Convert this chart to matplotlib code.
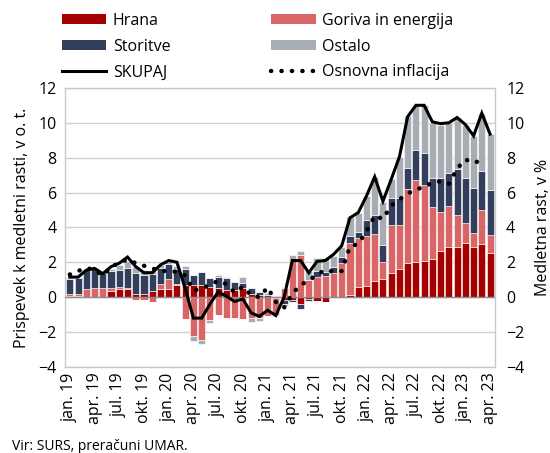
import matplotlib
matplotlib.use('Agg')
import matplotlib.pyplot as plt
import numpy as np
from matplotlib.patches import Patch
from matplotlib.lines import Line2D

plt.rcParams['font.family'] = ['Open Sans', 'DejaVu Sans']

# ---- data (jan 2019 .. apr 2023, monthly) ----
tick_labels = ['jan. 19', 'apr. 19', 'jul. 19', 'okt. 19', 'jan. 20', 'apr. 20',
               'jul. 20', 'okt. 20', 'jan. 21', 'apr. 21', 'jul. 21', 'okt. 21',
               'jan. 22', 'apr. 22', 'jul. 22', 'okt. 22', 'jan. 23', 'apr. 23']

hrana = [0.06, 0.05, 0.02, 0.02, -0.05, 0.35, 0.44, 0.45, 0.2, 0.2, 0.38, 0.45,
         0.48, 0.7, 0.7, 0.7, 0.7, 0.6, 0.5, 0.4, 0.4, 0.5, 0.2, 0.1,
         0.0, -0.05, -0.15, -0.15, -0.4, -0.1, -0.2, -0.27, -0.05, 0.0, 0.12, 0.56,
         0.63, 0.94, 1.02, 1.4, 1.6, 1.94, 2.0, 2.1, 2.19, 2.63, 2.9, 2.85,
         3.1, 2.9, 3.06, 2.52]
goriva = [0.12, 0.15, 0.45, 0.48, 0.5, 0.2, 0.15, 0.1, -0.15, -0.15, -0.25, 0.3,
          0.55, 0.05, -1.23, -2.25, -2.45, -1.29, -1.04, -1.17, -1.17, -1.23, -1.2, -1.17,
          -1.1, -1.0, 0.5, 2.1, 2.4, 1.0, 1.17, 1.21, 1.37, 1.94, 2.98, 2.82,
          2.9, 2.7, 1.0, 2.75, 2.55, 4.26, 4.7, 4.35, 2.98, 2.24, 2.3, 1.86,
          1.15, 0.77, 1.92, 1.06]
storitve = [0.85, 0.88, 1.1, 1.15, 0.9, 0.95, 0.96, 1.1, 1.2, 1.05, 0.95, 0.95,
            0.9, 0.85, 0.9, 0.57, 0.72, 0.48, 0.67, 0.68, 0.48, 0.3, 0.3, 0.2,
            0.12, 0.05, -0.25, -0.15, -0.25, -0.1, 0.35, 0.25, 0.34, 0.35, 0.38, 0.35,
            0.9, 1.1, 0.95, 1.55, 1.55, 1.2, 1.74, 1.8, 1.68, 1.98, 1.9, 2.66,
            2.6, 2.6, 2.25, 2.59]
ostalo = [0.05, 0.05, 0.03, 0.02, 0.05, 0.1, 0.3, 0.4, 0.35, 0.3, 0.25, 0.15,
          0.1, 0.2, 0.2, -0.25, -0.22, -0.19, 0.1, 0.1, 0.0, 0.33, -0.2, -0.2,
          0.13, -0.05, -0.1, 0.3, 0.27, 0.5, 0.7, 0.77, 0.66, 0.6, 1.1, 1.12,
          1.35, 2.15, 2.5, 1.05, 2.35, 3.0, 2.5, 2.75, 3.15, 3.05, 2.9, 2.93,
          3.05, 2.98, 3.27, 3.18]
skupaj = [1.15, 1.15, 1.55, 1.65, 1.35, 1.75, 1.95, 2.3, 1.75, 1.4, 1.4, 1.85,
          2.1, 2.0, 0.5, -1.2, -1.2, -0.4, 0.3, 0.05, -0.25, -0.1, -0.9, -1.1,
          -0.75, -1.05, 0.0, 2.1, 2.1, 1.4, 2.05, 2.1, 2.45, 2.95, 4.55, 4.85,
          5.8, 6.9, 5.5, 6.75, 8.05, 10.35, 11.0, 11.0, 10.05, 9.95, 10.0, 10.3,
          9.9, 9.25, 10.55, 9.35]
osnovna = [1.3, 1.5, 1.68, 1.55, 1.25, 1.7, 2.0, 2.15, 1.95, 1.8, 1.65, 1.5,
           1.5, 1.45, 1.25, 0.38, 0.5, 0.7, 0.94, 0.75, 0.27, 0.6, 0.1, 0.0,
           0.56, -0.27, -0.6, 0.2, 0.7, 0.95, 1.3, 1.56, 1.46, 1.5, 2.9, 3.06,
           3.77, 4.67, 4.48, 5.25, 5.6, 5.95, 6.15, 6.35, 6.55, 6.65, 6.5, 7.37,
           7.9, 7.7, 7.85, np.nan]

series = [('Hrana', hrana, '#a50000'),
          ('Goriva in energija', goriva, '#d86666'),
          ('Storitve', storitve, '#333d5c'),
          ('Ostalo', ostalo, '#a8adb3')]

x = np.arange(len(skupaj))

fig = plt.figure(figsize=(5.5, 4.53), dpi=100)
ax = fig.add_axes([0.118, 0.19, 0.782, 0.616])

pos_base = np.zeros(len(x))
neg_base = np.zeros(len(x))
for name, vals, col in series:
    v = np.array(vals, dtype=float)
    pos = np.where(v > 0, v, 0)
    neg = np.where(v < 0, v, 0)
    ax.bar(x, pos, bottom=pos_base, width=0.86, color=col, edgecolor='white', linewidth=0.4, zorder=2)
    ax.bar(x, neg, bottom=neg_base, width=0.86, color=col, edgecolor='white', linewidth=0.4, zorder=2)
    pos_base += pos
    neg_base += neg

ax.plot(x, skupaj, color='black', lw=2.2, zorder=4, solid_joinstyle='miter')
ax.plot(x, osnovna, color='black', lw=3.2, linestyle=(0, (0.05, 2.3)),
        dash_capstyle='round', zorder=4)

ax.axhline(0, color='#8c8c8c', lw=1.0, zorder=3)
ax.set_ylim(-4, 12)
ax.set_yticks(np.arange(-4, 13, 2))
ax.set_xlim(-0.6, len(x) - 0.4)
ax.set_xticks(np.arange(0, len(x), 3))
ax.set_xticklabels(tick_labels, rotation=90, fontsize=11)
ax.yaxis.grid(True, color='#d0d0d0', lw=1.0, zorder=0)
ax.set_axisbelow(True)
for s in ax.spines.values():
    s.set_color('#c8c8c8')
    s.set_linewidth(1.0)
ax.tick_params(axis='both', length=0, labelsize=11.5, pad=6)
ax.tick_params(axis='x', pad=4)
ax.set_ylabel('Prispevek k medletni rasti, v o. t.', fontsize=11.5, labelpad=6)

ax2 = ax.twinx()
ax2.set_ylim(-4, 12)
ax2.set_yticks(np.arange(-4, 13, 2))
ax2.tick_params(axis='y', length=0, labelsize=11.5, pad=8)
for s in ax2.spines.values():
    s.set_visible(False)
ax2.set_ylabel('Medletna rast, v %', fontsize=11.5, labelpad=8)

h1 = [Patch(facecolor=series[0][2]), Patch(facecolor=series[2][2]),
      Line2D([], [], color='black', lw=2.2)]
l1 = ['Hrana', 'Storitve', 'SKUPAJ']
h2 = [Patch(facecolor=series[1][2]), Patch(facecolor=series[3][2]),
      Line2D([], [], color='black', lw=3.2, linestyle=(0, (0.05, 2.3)), dash_capstyle='round')]
l2 = ['Goriva in energija', 'Ostalo', 'Osnovna inflacija']
kw = dict(loc='upper left', frameon=False, fontsize=11.5, handlelength=2.8,
          handleheight=0.6, handletextpad=0.4, labelspacing=0.62, borderpad=0, borderaxespad=0)
fig.legend(h1, l1, bbox_to_anchor=(0.112, 0.972), **kw)
fig.legend(h2, l2, bbox_to_anchor=(0.493, 0.972), **kw)

fig.text(0.022, 0.006, 'Vir: SURS, preračuni UMAR.', fontsize=10)

fig.savefig('out.png', dpi=100)
